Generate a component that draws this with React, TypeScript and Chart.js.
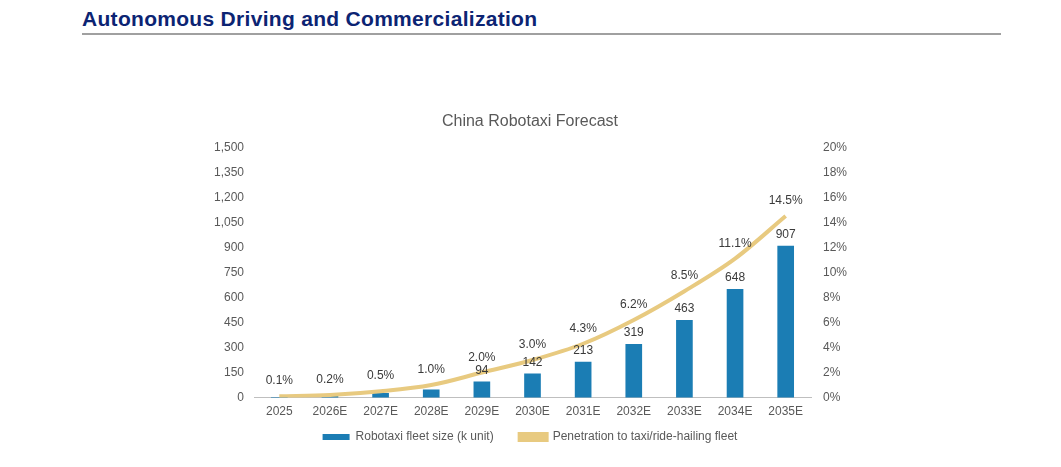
import { useEffect, useRef } from "react";
import { Chart, registerables } from "chart.js";

Chart.register(...registerables);

// data
const years = ["2025", "2026E", "2027E", "2028E", "2029E", "2030E", "2031E", "2032E", "2033E", "2034E", "2035E"];
const fleetSize = [2, 10, 25, 46, 94, 142, 213, 319, 463, 648, 907];
const penetration = [0.1, 0.2, 0.5, 1.0, 2.0, 3.0, 4.3, 6.2, 8.5, 11.1, 14.5];
const fleetLabelFrom = 4; // bar values are only labelled from 2029E

const BAR_COLOR = "#1B7DB4";
const LINE_COLOR = "#E8CA80";
const TEXT = "#595959";
const FONT = "Arial, 'Liberation Sans', sans-serif";
const LEGEND_LIFT = 21; // legend sits closer to the axis than its padding allows

const valueLabels = {
  id: "valueLabels",
  afterLayout(chart: any) {
    // pull the legend up, keeping the wide gap between its items
    if (chart.legend) {
      chart.legend.top -= LEGEND_LIFT;
      chart.legend.bottom -= LEGEND_LIFT;
    }
  },
  afterDatasetsDraw(chart: any) {
    const ctx = chart.ctx;
    ctx.save();
    ctx.font = `12px ${FONT}`;
    ctx.fillStyle = "#3a3a3a";
    ctx.textAlign = "center";
    ctx.textBaseline = "alphabetic";
    const bars = chart.getDatasetMeta(0);
    bars.data.forEach((el: any, i: number) => {
      if (i < fleetLabelFrom) return;
      ctx.fillText(String(fleetSize[i]), el.x, el.y - 8);
    });
    const line = chart.getDatasetMeta(1);
    line.data.forEach((el: any, i: number) => {
      ctx.fillText(`${penetration[i].toFixed(1)}%`, el.x, el.y - 12);
    });
    ctx.restore();
  },
};

export default function App() {
  const canvasRef = useRef<HTMLCanvasElement | null>(null);

  useEffect(() => {
    const canvas = canvasRef.current;
    if (!canvas) return;
    const chart = new Chart(canvas, {
      type: "bar",
      data: {
        labels: years,
        datasets: [
          {
            type: "bar",
            label: "Robotaxi fleet size (k unit)",
            data: fleetSize,
            backgroundColor: BAR_COLOR,
            barThickness: 16,
            yAxisID: "y",
            order: 1,
          },
          {
            type: "line",
            label: "Penetration to taxi/ride-hailing fleet",
            data: penetration,
            borderColor: LINE_COLOR,
            backgroundColor: LINE_COLOR,
            borderWidth: 4,
            pointRadius: 0,
            tension: 0.4,
            cubicInterpolationMode: "monotone",
            yAxisID: "y1",
            order: 0,
          },
        ],
      },
      options: {
        responsive: true,
        maintainAspectRatio: false,
        animation: false,
        layout: { padding: 0 },
        plugins: {
          title: {
            display: true,
            text: "China Robotaxi Forecast",
            color: TEXT,
            font: { family: FONT, size: 16, weight: "normal" },
            padding: { top: 4, bottom: 16 },
          },
          legend: {
            position: "bottom",
            labels: {
              color: TEXT,
              font: { family: FONT, size: 12 },
              boxWidth: 27,
              boxHeight: 6,
              padding: 26,
              sort: (a: any, b: any) => a.datasetIndex - b.datasetIndex,
            },
          },
          tooltip: { enabled: false },
        },
        scales: {
          x: {
            grid: { display: false, drawTicks: false },
            border: { display: true, color: "#BFBFBF", width: 1 },
            ticks: { color: TEXT, font: { family: FONT, size: 12 }, padding: 7 },
          },
          y: {
            position: "left",
            min: 0,
            max: 1500,
            grid: { display: false, drawTicks: false },
            border: { display: false },
            ticks: {
              stepSize: 150,
              color: TEXT,
              font: { family: FONT, size: 12 },
              padding: 10,
              callback: (v: any) => Number(v).toLocaleString("en-US"),
            },
            afterFit: (s: any) => {
              s.width = 74;
            },
          },
          y1: {
            position: "right",
            min: 0,
            max: 20,
            grid: { display: false, drawTicks: false },
            border: { display: false },
            ticks: {
              stepSize: 2,
              color: TEXT,
              font: { family: FONT, size: 12 },
              padding: 12,
              callback: (v: any) => `${v}%`,
            },
            afterFit: (s: any) => {
              s.width = 69;
            },
          },
        },
      },
      plugins: [valueLabels],
    });
    return () => {
      chart.destroy();
    };
  }, []);

  return (
    <div
      style={{
        position: "absolute",
        left: 0,
        top: 0,
        width: 1061,
        height: 467,
        overflow: "hidden",
        background: "#fff",
        fontFamily: FONT,
      }}
    >
      <div
        style={{
          position: "absolute",
          left: 82,
          top: 7,
          fontSize: 21,
          letterSpacing: 0.3,
          fontWeight: "bold",
          color: "#0C2473",
          lineHeight: "24px",
        }}
      >
        Autonomous Driving and Commercialization
      </div>
      <div
        style={{
          position: "absolute",
          left: 82,
          top: 33,
          width: 919,
          height: 2,
          background: "#A0A0A0",
        }}
      />
      <div style={{ position: "absolute", left: 180, top: 108, width: 700, height: 366 }}>
        <canvas ref={canvasRef}></canvas>
      </div>
    </div>
  );
}
